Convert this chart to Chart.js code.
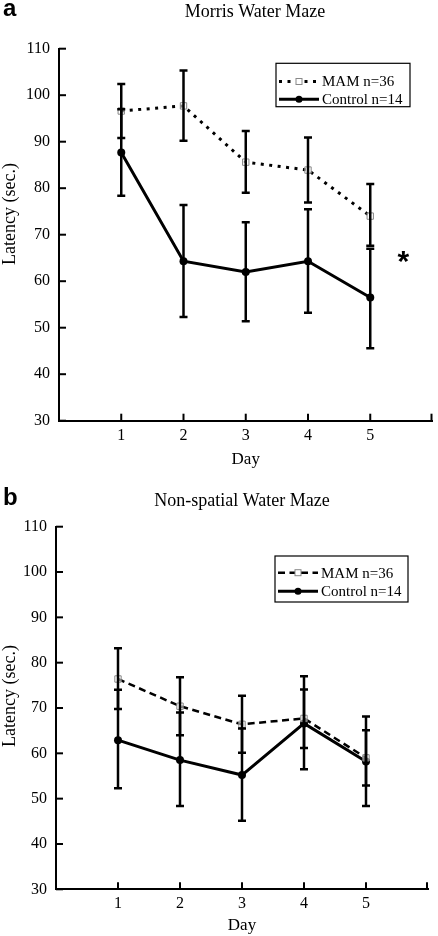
<!DOCTYPE html>
<html><head><meta charset="utf-8">
<script src="https://cdn.jsdelivr.net/npm/chart.js@4.4.0/dist/chart.umd.min.js"></script>
<style>
html,body{margin:0;padding:0;background:#fff;}
body{width:438px;height:936px;position:relative;overflow:hidden;}
.wrap{position:absolute;left:0;width:438px;}
</style></head><body>
<div class="wrap" style="top:0;height:470px"><canvas id="ca"></canvas></div>
<div class="wrap" style="top:470px;height:466px"><canvas id="cb"></canvas></div>
<script>
// ---- data ----
const days = [1, 2, 3, 4, 5];
const dayTickLabels = ['1', '2', '3', '4', '5'];
const latencyTicks = [30, 40, 50, 60, 70, 80, 90, 100, 110];

const seriesNames = ['MAM n=36', 'Control n=14'];

// Panel a: Morris Water Maze
const mamA      = [96.6, 97.7, 85.6, 83.9, 74.0];
const mamAHigh  = [102.4, 105.3, 92.3, 90.9, 80.9];
const mamALow   = [90.8, 90.2, 79.0, 76.9, 67.6];
const ctrlA     = [87.7, 64.3, 62.0, 64.3, 56.5];
const ctrlAHigh = [97.0, 76.4, 72.7, 75.5, 67.0];
const ctrlALow  = [78.4, 52.3, 51.4, 53.2, 45.6];

// Panel b: Non-spatial Water Maze
const mamB      = [76.4, 70.4, 66.4, 67.7, 59.0];
const mamBHigh  = [83.2, 76.8, 72.7, 74.1, 65.1];
const mamBLow   = [69.8, 64.0, 60.1, 61.2, 52.9];
const ctrlB     = [62.9, 58.5, 55.2, 66.6, 58.2];
const ctrlBHigh = [74.0, 69.0, 65.5, 77.0, 68.1];
const ctrlBLow  = [52.3, 48.4, 45.1, 56.5, 48.4];

// ---- rendering ----
const SERIF = '"Liberation Serif", "Times New Roman", serif';
Chart.defaults.font.family = SERIF;
Chart.defaults.color = '#000';

const pts = arr => days.map((d, i) => ({ x: d, y: arr[i] }));

const deco = {
  id: 'deco',
  afterDatasetsDraw(chart, args, o) {
    const ctx = chart.ctx, xs = chart.scales.x, ys = chart.scales.y;
    ctx.save();
    ctx.strokeStyle = '#000';
    ctx.lineWidth = 2.5;
    chart.data.datasets.forEach(ds => {
      days.forEach((d, i) => {
        const x = xs.getPixelForValue(d);
        const yh = ys.getPixelForValue(ds.errHigh[i]);
        const yl = ys.getPixelForValue(ds.errLow[i]);
        ctx.beginPath();
        ctx.moveTo(x, yh); ctx.lineTo(x, yl);
        ctx.moveTo(x - 4, yh); ctx.lineTo(x + 4, yh);
        ctx.moveTo(x - 4, yl); ctx.lineTo(x + 4, yl);
        ctx.stroke();
      });
    });
    ctx.restore();
  },
  afterDraw(chart, args, o) {
    const ctx = chart.ctx, xs = chart.scales.x, ys = chart.scales.y;
    const ca = chart.chartArea;
    ctx.save();
    // inward tick marks
    ctx.strokeStyle = '#000';
    ctx.lineWidth = 2;
    latencyTicks.forEach(v => {
      const y = ys.getPixelForValue(v);
      ctx.beginPath(); ctx.moveTo(ca.left, y); ctx.lineTo(ca.left + 7, y); ctx.stroke();
    });
    [1, 2, 3, 4, 5, 6].forEach(v => {
      const x = Math.min(xs.getPixelForValue(v), ca.right - 1);
      ctx.beginPath(); ctx.moveTo(x, ca.bottom); ctx.lineTo(x, ca.bottom - 7); ctx.stroke();
    });
    ctx.fillStyle = '#000';
    // y-axis title (text from the scale's title option)
    const yt = ys.options.title;
    ctx.save();
    ctx.translate(o.yTitleX, o.yTitleY);
    ctx.rotate(-Math.PI / 2);
    ctx.font = '18px ' + SERIF;
    ctx.textAlign = 'center';
    ctx.textBaseline = 'middle';
    ctx.fillText(yt.text, 0, 0);
    ctx.restore();
    // panel letter
    ctx.textBaseline = 'alphabetic';
    ctx.textAlign = 'left';
    ctx.font = 'bold 24px "Liberation Sans", Arial, sans-serif';
    ctx.fillText(o.letter, o.letterX, o.letterY);
    // title
    ctx.font = '18px ' + SERIF;
    ctx.textAlign = 'center';
    ctx.fillText(o.title, o.titleX, o.titleY);
    // legend
    const L = o.legend;
    ctx.lineWidth = 1.2;
    ctx.strokeStyle = '#000';
    ctx.strokeRect(L.x, L.y, L.w, L.h);
    ctx.font = '15px ' + SERIF;
    ctx.textAlign = 'left';
    ctx.textBaseline = 'middle';
    chart.data.datasets.forEach((ds, i) => {
      const ry = L.rows[i];
      ctx.save();
      ctx.strokeStyle = '#000';
      ctx.lineWidth = ds.borderWidth;
      ctx.setLineDash(ds.borderDash || []);
      ctx.beginPath(); ctx.moveTo(L.sx0, ry); ctx.lineTo(L.sx1, ry); ctx.stroke();
      ctx.setLineDash([]);
      const mx = (L.sx0 + L.sx1) / 2;
      if (ds.pointStyle === 'rect') {
        ctx.fillStyle = '#fff';
        ctx.fillRect(mx - 3, ry - 3, 6, 6);
        ctx.strokeStyle = ds.pointBorderColor; ctx.lineWidth = 1;
        ctx.strokeRect(mx - 3, ry - 3, 6, 6);
      } else {
        ctx.fillStyle = '#000';
        ctx.beginPath(); ctx.arc(mx, ry, 3.5, 0, Math.PI * 2); ctx.fill();
      }
      ctx.restore();
      ctx.fillStyle = '#000';
      ctx.fillText(ds.label, L.tx, ry + 1);
    });
    // significance mark
    if (o.star) {
      ctx.font = 'bold 30px "Liberation Sans", Arial, sans-serif';
      ctx.textAlign = 'center';
      ctx.textBaseline = 'alphabetic';
      ctx.fillText('*', xs.getPixelForValue(o.star.x), ys.getPixelForValue(o.star.y) + 14);
    }
    ctx.restore();
  }
};

function makeChart(id, mam, mamHi, mamLo, ctrl, ctrlHi, ctrlLo, mamDash, cfg) {
  return new Chart(document.getElementById(id), {
    type: 'line',
    data: {
      datasets: [
        {
          label: seriesNames[0], data: pts(mam), errHigh: mamHi, errLow: mamLo,
          borderColor: '#000', borderWidth: cfg.mamWidth, borderDash: mamDash,
          pointStyle: 'rect', pointRadius: 4.5, pointBackgroundColor: 'rgba(255,255,255,0.5)',
          pointBorderColor: '#888', pointBorderWidth: 1, tension: 0, fill: false
        },
        {
          label: seriesNames[1], data: pts(ctrl), errHigh: ctrlHi, errLow: ctrlLo,
          borderColor: '#000', borderWidth: 3,
          pointStyle: 'circle', pointRadius: 4, pointBackgroundColor: '#000',
          pointBorderColor: '#000', pointBorderWidth: 0, tension: 0, fill: false
        }
      ]
    },
    options: {
      animation: false, responsive: true, maintainAspectRatio: false, devicePixelRatio: 1,
      layout: { padding: cfg.padding },
      plugins: { legend: { display: false }, tooltip: { enabled: false }, deco: cfg.deco },
      scales: {
        x: {
          type: 'linear', min: 0, max: 6,
          grid: { display: false, drawTicks: false },
          border: { display: true, color: '#000', width: 2 },
          ticks: { stepSize: 1, padding: 5, font: { size: 16 },
            callback: v => (v >= 1 && v <= days.length) ? dayTickLabels[v - 1] : '' },
          title: { display: true, text: 'Day', font: { size: 17, lineHeight: 1 }, padding: 0 },
          afterFit: s => { s.height = cfg.xH; }
        },
        y: {
          min: 30, max: 110,
          grid: { display: false, drawTicks: false },
          border: { display: true, color: '#000', width: 2 },
          ticks: { stepSize: 10, padding: 9, font: { size: 16 } },
          title: { display: false, text: 'Latency (sec.)' },
          afterFit: s => { s.width = cfg.yW; }
        }
      }
    },
    plugins: [deco]
  });
}

makeChart('ca', mamA, mamAHigh, mamALow, ctrlA, ctrlAHigh, ctrlALow, [3, 5.5], {
  mamWidth: 3,
  padding: { left: 0, top: 48.7, right: 1, bottom: 2.2 },
  xH: 47.1, yW: 59,
  deco: {
    letter: 'a', letterX: 3, letterY: 16, title: 'Morris Water Maze', titleX: 255, titleY: 16.5,
    yTitleX: 10, yTitleY: 214,
    legend: { x: 276, y: 63.3, w: 134, h: 43.4, rows: [81.5, 99.3], sx0: 279, sx1: 319, tx: 322 },
    star: { x: 5.53, y: 65.2 }
  }
});

makeChart('cb', mamB, mamBHigh, mamBLow, ctrlB, ctrlBHigh, ctrlBLow, [7, 4.5], {
  mamWidth: 2.5,
  padding: { left: 0, top: 56.7, right: 10, bottom: 1.5 },
  xH: 45.2, yW: 56,
  deco: {
    letter: 'b', letterX: 3, letterY: 35, title: 'Non-spatial Water Maze', titleX: 242, titleY: 36,
    yTitleX: 10, yTitleY: 226,
    legend: { x: 275, y: 86, w: 133, h: 46, rows: [102.7, 121.3], sx0: 278, sx1: 318, tx: 321 },
    star: null
  }
});
</script>
</body></html>
